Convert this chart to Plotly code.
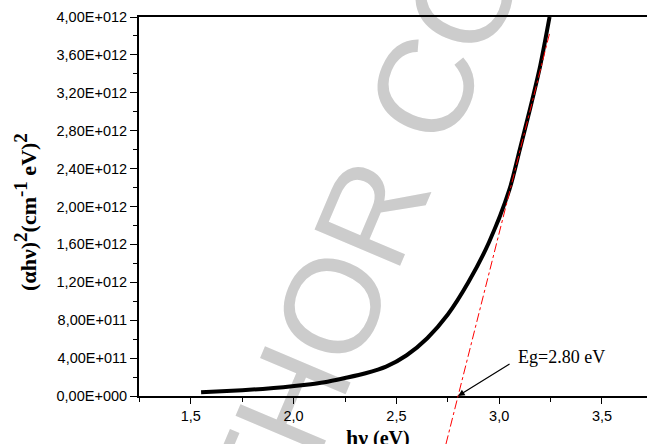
import plotly.graph_objects as go

# ---- data ----
hv = [1.55, 1.65, 1.75, 1.85, 1.95, 2.05, 2.15, 2.25, 2.35, 2.45, 2.55,
      2.65, 2.75, 2.85, 2.95, 3.05, 3.10, 3.15, 3.20, 3.245]
alpha_hv_sq_e12 = [0.040, 0.050, 0.061, 0.075, 0.093, 0.116, 0.145, 0.19, 0.24,
                   0.31, 0.43, 0.61, 0.86, 1.20, 1.62, 2.18, 2.60, 3.03, 3.49, 4.00]
alpha_hv_sq = [v * 1e12 for v in alpha_hv_sq_e12]

# linear extrapolation (Tauc fit)
eg = 2.80
fit_slope = 8.6e12
fit_x = [2.741, 3.245]

y_tick_vals = [i * 0.4e12 for i in range(11)]
y_tick_text = ["0,00E+000", "4,00E+011", "8,00E+011", "1,20E+012", "1,60E+012",
               "2,00E+012", "2,40E+012", "2,80E+012", "3,20E+012", "3,60E+012",
               "4,00E+012"]
x_tick_vals = [1.5, 2.0, 2.5, 3.0, 3.5]
x_tick_text = ["1,5", "2,0", "2,5", "3,0", "3,5"]

x_range = [1.248, 3.719]
y_range = [0, 4e12]


def y_to_paper(v):
    return (v - y_range[0]) / (y_range[1] - y_range[0])


fig = go.Figure()
fig.add_trace(go.Scatter(
    x=hv, y=alpha_hv_sq, mode="lines",
    line=dict(color="black", width=4, shape="spline", smoothing=0.8),
    showlegend=False, hoverinfo="skip",
))

fit_y = [fit_slope * (x - eg) for x in fit_x]
fig.add_shape(type="line", xref="x", yref="paper",
              x0=fit_x[0], x1=fit_x[1],
              y0=y_to_paper(fit_y[0]), y1=y_to_paper(fit_y[1]),
              line=dict(color="red", width=1, dash="dashdot"), layer="above")

# watermark
fig.add_shape(type="rect", xref="paper", yref="paper",
              x0=0.414, x1=0.416, y0=0.432, y1=0.434,
              line=dict(width=0), fillcolor="rgba(0,0,0,0)", layer="below",
              label=dict(text="AUTHOR COPY", textangle=-67,
                         textposition="middle center",
                         font=dict(family="Liberation Sans", size=135,
                                   color="#cccccc")))

# arrow
fig.add_annotation(x=eg, y=0, xref="x", yref="y", text="",
                   showarrow=True, ax=53, ay=-33, arrowhead=2,
                   arrowsize=1.1, arrowwidth=1.2, arrowcolor="black")
fig.add_annotation(x=3.305, y=0.41e12, xref="x", yref="y",
                   text="Eg=2.80 eV", showarrow=False,
                   xanchor="center", yanchor="middle",
                   font=dict(family="Liberation Serif", size=18, color="black"))

# axis titles
big_sup = '<sup><span style="font-size:19px">{}</span></sup>'
fig.add_annotation(x=-0.225, y=0.485, xref="paper", yref="paper",
                   text="<b>(αhν)" + big_sup.format("2") + "(cm" + big_sup.format("-1")
                        + " eV)" + big_sup.format("2") + "</b>",
                   textangle=-90, showarrow=False,
                   xanchor="center", yanchor="middle",
                   font=dict(family="Liberation Serif", size=22, color="black"))
fig.add_annotation(x=0.47, y=-0.071, xref="paper", yref="paper",
                   text="<b><span style='font-size:22px'>hν</span> (eV)</b>",
                   showarrow=False,
                   xanchor="center", yanchor="top",
                   font=dict(family="Liberation Serif", size=20, color="black"))

fig.update_xaxes(range=x_range, tickmode="array", tickvals=x_tick_vals,
                 ticktext=x_tick_text, ticks="outside", ticklen=6, tickwidth=1,
                 tickcolor="black", showline=True, linecolor="black",
                 linewidth=1.5, mirror=True, showgrid=False, zeroline=False,
                 minor=dict(ticks="outside", ticklen=4, tickwidth=1,
                            tickcolor="black", tick0=1.25, dtick=0.5,
                            showgrid=False),
                 tickfont=dict(family="Liberation Sans", size=14.5, color="black"))
fig.update_yaxes(range=y_range, tickmode="array", tickvals=y_tick_vals,
                 ticktext=y_tick_text, ticks="outside", ticklen=7, tickwidth=1,
                 tickcolor="black", showline=True, linecolor="black",
                 linewidth=2, mirror=False, showgrid=False, zeroline=False,
                 minor=dict(ticks="outside", ticklen=4, tickwidth=1,
                            tickcolor="black", tick0=0.2e12, dtick=0.4e12,
                            showgrid=False),
                 tickfont=dict(family="Liberation Sans", size=14.5, color="black"))

fig.update_layout(width=647, height=444,
                  margin=dict(l=139, r=0, t=17, b=48),
                  paper_bgcolor="white", plot_bgcolor="rgba(0,0,0,0)",
                  showlegend=False)

fig.write_html("out.html", config={"displayModeBar": False},
               post_script="document.body.style.margin='0';"
                           "document.body.style.overflow='hidden';")
